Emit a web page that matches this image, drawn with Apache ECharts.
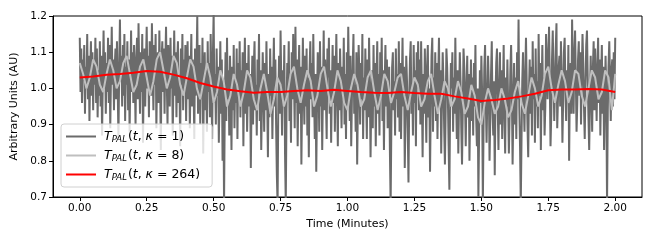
<!DOCTYPE html>
<html>
<head>
<meta charset="utf-8">
<script src="https://cdn.jsdelivr.net/npm/echarts@6/dist/echarts.min.js"></script>
<style>
  html, body { margin: 0; padding: 0; background: #fff; }
  #chart { width: 654px; height: 245px; }
</style>
</head>
<body>
<div id="chart"></div>
<script>
// all three traces cover the same 2 minute recording
const duration = 2.0

// kappa = 1, raw trace
const palK1 = [
  1.14, 0.99, 1.11, 0.96, 1.08, 1.02, 1.12, 0.93, 1.06, 1.00, 1.15, 0.97, 1.09, 0.91, 1.04, 1.13, 0.98, 1.10, 0.94, 1.07, 1.01, 1.14, 0.96, 1.11,
  0.92, 1.05, 0.98, 1.13, 0.95, 1.09, 0.87, 1.03, 1.16, 1.00, 1.10, 0.93, 1.07, 0.99, 1.14, 0.96, 1.12, 0.89, 1.04, 1.17, 1.01, 1.08, 0.94, 1.06,
  1.11, 0.97, 1.13, 1.00, 0.86, 1.05, 1.19, 1.02, 1.09, 0.95, 1.12, 0.98, 1.15, 0.91, 1.06, 1.01, 1.13, 0.94, 1.08, 0.88, 1.03, 1.16, 0.99, 1.10,
  0.96, 1.12, 1.03, 0.90, 1.08, 1.14, 0.97, 1.18, 1.04, 0.93, 1.10, 0.99, 1.15, 0.85, 1.02, 1.11, 0.95, 1.07, 1.17, 1.00, 1.09, 0.92, 1.13, 1.05,
  0.98, 1.18, 1.06, 0.94, 1.12, 1.01, 1.15, 0.89, 1.04, 1.10, 0.96, 1.16, 1.03, 0.83, 1.08, 1.13, 0.99, 1.11, 0.93, 1.07, 1.17, 1.02, 0.90, 1.12,
  1.05, 0.95, 1.14, 1.00, 1.09, 0.87, 1.03, 1.16, 0.98, 1.10, 0.92, 1.07, 1.13, 0.96, 1.04, 0.84, 1.11, 1.01, 1.15, 0.94, 1.08, 0.99, 1.12, 0.91,
  1.06, 1.13, 0.97, 1.09, 0.89, 1.03, 1.15, 0.95, 1.08, 1.01, 0.86, 1.11, 0.98, 1.06, 1.20, 0.93, 1.04, 1.12, 0.90, 1.07, 0.97, 1.14, 0.82, 1.02,
  1.10, 0.94, 1.05, 0.88, 1.13, 0.99, 1.07, 0.92, 1.15, 1.02, 0.86, 1.09, 1.21, 0.96, 1.04, 0.90, 1.11, 0.98, 1.06, 0.85, 1.00, 1.13, 0.93, 1.08,
  0.80, 1.02, 0.68, 0.95, 1.10, 0.91, 1.14, 0.97, 1.05, 0.87, 1.09, 0.99, 0.83, 1.06, 0.94, 1.12, 0.89, 1.03, 0.96, 1.11, 0.86, 1.07, 0.98, 1.13,
  0.92, 1.05, 0.97, 1.10, 0.84, 1.02, 1.14, 0.93, 1.07, 0.88, 0.99, 1.12, 0.95, 1.04, 0.78, 0.97, 1.09, 0.90, 1.06, 1.13, 0.94, 1.01, 0.87, 1.08,
  0.99, 1.15, 0.91, 1.05, 0.83, 0.96, 1.10, 1.00, 0.88, 1.07, 0.94, 1.13, 0.97, 0.81, 1.04, 0.92, 1.11, 0.98, 1.06, 0.86, 1.02, 1.14, 0.95, 1.08,
  0.90, 0.76, 0.68, 0.97, 1.09, 0.93, 1.16, 1.01, 0.87, 1.05, 0.95, 1.12, 0.82, 0.68, 0.94, 1.07, 0.99, 1.13, 0.91, 1.04, 0.85, 1.10, 0.97, 1.15,
  1.03, 0.89, 1.17, 0.96, 1.08, 0.84, 1.01, 1.12, 0.93, 1.06, 0.79, 0.98, 1.14, 1.00, 0.90, 1.09, 0.95, 1.11, 0.87, 1.03, 0.81, 1.05, 1.13, 0.97,
  1.07, 0.92, 1.15, 0.99, 0.86, 1.04, 0.77, 0.96, 1.10, 1.02, 0.88, 1.13, 0.95, 1.06, 0.83, 1.00, 1.16, 0.94, 1.08, 0.97, 0.86, 1.11, 1.03, 1.14,
  0.93, 1.05, 0.85, 1.00, 1.12, 0.96, 1.09, 0.88, 1.03, 1.15, 0.98, 0.84, 1.07, 0.94, 1.11, 1.01, 0.89, 1.06, 0.97, 1.14, 0.90, 1.04, 0.86, 1.10,
  0.95, 1.17, 1.02, 0.91, 1.09, 0.84, 0.98, 1.06, 1.15, 0.93, 1.01, 0.88, 1.10, 0.79, 0.96, 1.12, 1.04, 0.90, 1.07, 0.97, 1.15, 0.86, 1.03, 0.94,
  1.11, 0.99, 0.86, 1.08, 0.92, 1.14, 1.00, 0.81, 0.97, 1.05, 0.89, 1.12, 0.95, 1.07, 0.84, 1.02, 1.13, 0.93, 1.04, 0.87, 1.10, 0.98, 1.14, 0.91,
  1.05, 0.83, 1.01, 1.12, 0.95, 1.08, 0.89, 0.99, 1.06, 0.83, 0.68, 0.90, 1.06, 1.10, 0.94, 1.02, 0.87, 1.11, 0.97, 1.04, 0.92, 1.13, 0.88, 1.07,
  0.86, 1.00, 1.14, 0.95, 1.06, 0.78, 0.92, 1.09, 1.02, 0.89, 0.74, 0.97, 1.08, 1.13, 0.93, 1.01, 0.87, 1.12, 0.96, 1.05, 0.84, 1.10, 1.00, 1.13,
  0.94, 1.08, 0.90, 1.13, 0.99, 0.81, 1.04, 0.93, 1.11, 0.97, 0.85, 1.06, 1.12, 0.92, 1.00, 0.77, 0.96, 1.09, 1.14, 0.88, 1.03, 0.95, 1.10, 0.91,
  1.07, 0.86, 1.03, 1.14, 0.95, 1.05, 0.82, 0.97, 1.10, 1.02, 0.89, 0.79, 0.94, 1.11, 1.06, 0.97, 0.84, 0.72, 0.95, 1.07, 1.00, 1.10, 0.88, 1.03,
  0.93, 1.14, 0.98, 0.86, 1.05, 0.82, 0.96, 1.10, 1.02, 0.89, 0.79, 0.94, 1.11, 1.06, 0.97, 0.84, 1.00, 1.09, 0.92, 1.04, 0.80, 0.95, 1.08, 0.91,
  1.03, 0.87, 1.07, 0.95, 1.12, 0.92, 0.84, 1.00, 0.70, 0.88, 1.05, 0.96, 1.09, 0.99, 0.68, 0.91, 1.06, 1.12, 0.96, 0.85, 0.97, 1.09, 1.01, 0.80,
  0.92, 1.04, 1.13, 0.94, 0.87, 1.02, 0.76, 0.98, 1.07, 1.11, 0.95, 0.83, 1.00, 1.10, 0.90, 1.05, 0.86, 0.99, 1.12, 0.93, 0.82, 1.03, 0.95, 1.08,
  0.96, 0.82, 0.93, 1.05, 1.12, 0.99, 0.79, 0.94, 1.07, 0.90, 1.03, 0.86, 1.10, 0.97, 1.19, 0.95, 0.84, 0.68, 0.86, 1.02, 1.10, 0.96, 0.88, 1.04,
  1.14, 1.01, 0.90, 0.81, 0.99, 1.08, 0.93, 1.06, 0.87, 1.13, 0.97, 1.04, 0.85, 1.11, 0.95, 1.02, 0.89, 1.15, 0.98, 1.07, 0.83, 1.00, 1.12, 0.94,
  1.03, 0.87, 0.95, 1.15, 1.09, 0.97, 1.06, 1.17, 1.02, 0.84, 0.93, 1.08, 1.16, 1.04, 0.91, 1.00, 1.11, 1.18, 0.89, 0.97, 1.06, 1.09, 0.95, 1.13,
  1.02, 0.85, 0.97, 1.10, 1.14, 1.00, 0.91, 1.05, 0.96, 1.12, 0.80, 1.01, 1.07, 0.93, 1.19, 1.06, 0.93, 1.09, 1.16, 1.03, 0.88, 0.96, 1.08, 1.13,
  0.98, 1.10, 0.90, 1.04, 1.15, 1.07, 0.95, 0.86, 1.01, 1.12, 1.16, 1.03, 0.92, 0.83, 0.97, 1.09, 0.99, 0.88, 1.06, 1.13, 0.94, 1.11, 1.02, 0.91,
  1.05, 1.14, 0.96, 1.08, 0.87, 1.02, 1.12, 0.93, 1.06, 0.83, 0.97, 1.09, 0.99, 0.68, 0.94, 1.06, 1.13, 1.02, 0.91, 1.05, 1.08, 0.95, 1.10, 0.97,
  1.14,
]

// kappa = 8
const palK8 = [
  1.07, 1.04, 1.00, 1.03, 1.08, 1.06, 1.01, 0.99, 1.04, 1.08, 1.05, 1.00, 1.02, 1.07, 1.09, 1.04,
  0.99, 1.01, 1.06, 1.08, 1.03, 0.98, 1.02, 1.08, 1.10, 1.05, 1.00, 1.03, 1.09, 1.07, 1.01, 0.98,
  1.03, 1.08, 1.06, 1.00, 0.97, 1.02, 1.07, 1.03, 0.96, 0.99, 1.05, 1.02, 0.95, 0.98, 1.04, 1.01,
  0.95, 0.99, 1.05, 1.03, 0.97, 0.94, 1.00, 1.04, 0.99, 0.93, 0.97, 1.03, 1.01, 0.95, 0.98, 1.04,
  1.06, 1.00, 0.96, 1.01, 1.05, 1.02, 0.95, 0.98, 1.04, 1.06, 1.00, 0.95, 0.99, 1.05, 1.02, 0.96,
  0.94, 1.00, 1.04, 1.01, 0.95, 0.97, 1.03, 1.05, 0.99, 0.94, 0.98, 1.04, 1.02, 0.96, 0.99, 1.03,
  1.04, 0.98, 0.94, 0.99, 1.03, 1.01, 0.95, 0.97, 1.02, 1.04, 0.98, 0.93, 0.97, 1.02, 1.00, 0.95,
  0.97, 1.02, 0.99, 0.93, 0.95, 1.01, 0.98, 0.92, 0.90, 0.96, 1.00, 0.97, 0.93, 0.95, 1.00, 0.97,
  0.92, 0.94, 0.99, 1.02, 0.96, 0.93, 0.98, 1.03, 1.00, 0.95, 0.98, 1.04, 1.06, 1.00, 0.96, 1.01,
  1.05, 1.02, 0.96, 0.99, 1.05, 1.04, 0.98, 0.95, 1.00, 1.05, 1.03, 0.97, 0.99, 1.05, 1.03, 0.94,
  1.04,
]

// kappa = 264, slow trend
const palK264 = [
  1.030, 1.033, 1.038, 1.040, 1.043, 1.048, 1.046, 1.038, 1.028, 1.015, 1.005,
  0.997, 0.992, 0.988, 0.990, 0.990, 0.993, 0.995, 0.993, 0.996, 0.993,
  0.990, 0.988, 0.987, 0.990, 0.987, 0.985, 0.985, 0.978, 0.972, 0.965,
  0.968, 0.972, 0.978, 0.985, 0.995, 0.997, 0.997, 0.998, 0.997, 0.990,
]

const seriesNames = ['k1', 'k8', 'k264']
const kappaLabels = ['1', '8', '264']
const xTicks = [0, 0.25, 0.5, 0.75, 1.0, 1.25, 1.5, 1.75, 2.0]

// evenly sampled over the recording
function toPoints(values) {
  const step = duration / (values.length - 1)
  return values.map((v, i) => [+(i * step).toFixed(6), v])
}

function legendLabel(name) {
  const k = kappaLabels[seriesNames.indexOf(name)]
  return `{i|T}{s|PAL}{n|(}{i|t}{n|, }{i|κ}{n| = ${k})}`
}

const chart = echarts.init(document.getElementById('chart'), null, { renderer: 'canvas' })

const font = 'DejaVu Sans'
const dark = '#6b6b6b'
const light = '#bfbfbf'

const option = {
  animation: false,
  textStyle: { fontFamily: font, color: '#000' },
  grid: {
    left: 53,
    right: 12,
    top: 16,
    bottom: 48,
    show: true,
    borderColor: '#000',
    borderWidth: 1,
  },
  legend: {
    orient: 'vertical',
    left: 61,
    top: 124,
    padding: [6, 12, 5, 5],
    itemWidth: 30,
    itemHeight: 2,
    itemGap: 5,
    backgroundColor: 'rgba(255,255,255,0.8)',
    borderColor: '#d0d0d0',
    borderWidth: 1,
    borderRadius: 3,
    data: seriesNames.map((n) => ({ name: n, icon: 'rect' })),
    formatter: legendLabel,
    textStyle: {
      fontFamily: font,
      fontSize: 12,
      color: '#000',
      padding: [0, 0, 0, 3],
      rich: {
        i: { fontFamily: font, fontStyle: 'italic', fontSize: 12.5 },
        n: { fontFamily: font, fontSize: 12.5 },
        s: { fontFamily: font, fontStyle: 'italic', fontSize: 8.5, verticalAlign: 'bottom', padding: [6, 1, 0, 0] },
      },
    },
  },
  xAxis: {
    type: 'value',
    min: -0.1,
    max: 2.1,
    name: 'Time (Minutes)',
    nameLocation: 'middle',
    nameGap: 22,
    nameTextStyle: { fontSize: 11, fontFamily: font, color: '#000' },
    splitLine: { show: false },
    axisLine: { onZero: false, lineStyle: { color: '#000' } },
    axisTick: { customValues: xTicks, length: 4, lineStyle: { color: '#000' } },
    axisLabel: {
      customValues: xTicks,
      formatter: (v) => v.toFixed(2),
      fontSize: 10.5,
      color: '#000',
      margin: 6,
    },
  },
  yAxis: {
    type: 'value',
    min: 0.7,
    max: 1.2,
    interval: 0.1,
    name: 'Arbitrary Units (AU)',
    nameLocation: 'middle',
    nameGap: 29,
    nameTextStyle: { fontSize: 11, fontFamily: font, color: '#000' },
    splitLine: { show: false },
    axisLine: { show: true, onZero: false, lineStyle: { color: '#000' } },
    axisTick: { show: true, length: 4, lineStyle: { color: '#000' } },
    axisLabel: {
      formatter: (v) => v.toFixed(1),
      fontSize: 10.5,
      color: '#000',
      margin: 6,
    },
  },
  series: [
    {
      name: 'k1',
      type: 'line',
      symbol: 'none',
      clip: true,
      lineStyle: { color: dark, width: 2 },
      itemStyle: { color: dark },
      data: toPoints(palK1),
    },
    {
      name: 'k8',
      type: 'line',
      symbol: 'none',
      clip: true,
      lineStyle: { color: light, width: 2 },
      itemStyle: { color: light },
      data: toPoints(palK8),
    },
    {
      name: 'k264',
      type: 'line',
      symbol: 'none',
      clip: true,
      lineStyle: { color: '#ff0000', width: 2 },
      itemStyle: { color: '#ff0000' },
      data: toPoints(palK264),
    },
  ],
}

chart.setOption(option)

window.addEventListener('resize', () => chart.resize())
</script>
</body>
</html>
